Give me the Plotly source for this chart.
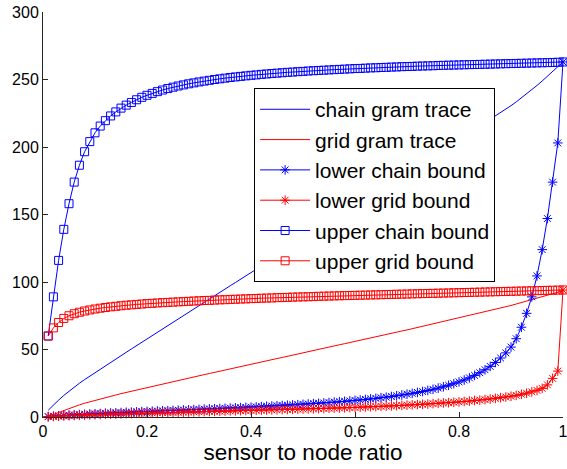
import plotly.graph_objects as go

# sensor-to-node ratio: 1/100 ... 100/100
ratio = [k / 100 for k in range(1, 101)]

chain_gram_trace = [
    5.0, 9.0, 12.5, 16.0, 19.2, 22.2, 25.0, 27.7, 30.3, 32.9,
    35.4, 37.9, 40.4, 42.9, 45.4, 47.9, 50.4, 52.9, 55.4, 57.9,
    60.4, 62.9, 65.3, 67.8, 70.2, 72.7, 75.1, 77.6, 80.0, 82.5,
    84.9, 87.4, 89.8, 92.3, 94.7, 97.2, 99.6, 102.1, 104.5, 107.0,
    109.4, 111.9, 114.3, 116.8, 119.2, 121.7, 124.1, 126.6, 129.0, 131.5,
    133.9, 136.4, 138.8, 141.3, 143.7, 146.2, 148.6, 151.1, 153.5, 156.0,
    158.4, 160.9, 163.3, 165.8, 168.2, 170.7, 173.1, 175.6, 178.0, 180.5,
    182.9, 185.4, 187.8, 190.3, 192.7, 195.2, 197.6, 200.1, 202.5, 205.0,
    207.5, 210.0, 212.5, 215.0, 217.5, 220.0, 222.6, 225.2, 227.9, 230.6,
    233.4, 236.3, 239.3, 242.4, 245.6, 248.9, 252.3, 255.8, 259.4, 263.0,
]

grid_gram_trace = [
    0.5, 2.0, 3.5, 5.0, 6.4, 7.7, 9.0, 10.2, 11.3, 12.4,
    13.4, 14.4, 15.4, 16.3, 17.3, 18.2, 19.2, 20.1, 21.1, 22.0,
    22.9, 23.7, 24.6, 25.4, 26.3, 27.1, 28.0, 28.8, 29.7, 30.5,
    31.4, 32.2, 33.1, 33.9, 34.8, 35.6, 36.5, 37.3, 38.2, 39.0,
    39.9, 40.7, 41.6, 42.4, 43.3, 44.1, 45.0, 45.8, 46.7, 47.5,
    48.4, 49.2, 50.1, 50.9, 51.8, 52.6, 53.5, 54.3, 55.2, 56.0,
    56.9, 57.7, 58.6, 59.4, 60.3, 61.1, 62.0, 62.8, 63.7, 64.5,
    65.4, 66.2, 67.1, 67.9, 68.8, 69.7, 70.5, 71.4, 72.2, 73.1,
    74.0, 74.9, 75.8, 76.7, 77.6, 78.6, 79.6, 80.6, 81.6, 82.6,
    83.7, 84.8, 85.9, 87.0, 88.1, 89.2, 90.3, 91.4, 92.4, 93.5,
]

lower_chain_bound = [
    0.3, 0.6, 0.9, 1.2, 1.4, 1.6, 1.8, 2.0, 2.2, 2.4,
    2.6, 2.8, 3.0, 3.1, 3.3, 3.5, 3.6, 3.8, 4.0, 4.1,
    4.3, 4.4, 4.6, 4.7, 4.9, 5.0, 5.2, 5.3, 5.5, 5.6,
    5.8, 6.0, 6.1, 6.3, 6.4, 6.6, 6.8, 6.9, 7.1, 7.3,
    7.5, 7.7, 7.9, 8.1, 8.3, 8.5, 8.7, 8.9, 9.1, 9.4,
    9.6, 9.9, 10.1, 10.4, 10.7, 11.0, 11.3, 11.6, 11.9, 12.3,
    12.6, 13.0, 13.4, 13.8, 14.3, 14.7, 15.2, 15.7, 16.3, 16.9,
    17.5, 18.2, 18.9, 19.7, 20.5, 21.4, 22.4, 23.5, 24.7, 26.0,
    27.4, 29.0, 30.8, 32.8, 35.0, 37.5, 40.4, 43.7, 47.5, 51.8,
    58.0, 66.5, 76.8, 89.0, 104.5, 124.0, 147.0, 174.0, 203.0, 263.0,
]

lower_grid_bound = [
    0.2, 0.4, 0.6, 0.8, 1.0, 1.1, 1.3, 1.4, 1.6, 1.7,
    1.8, 2.0, 2.1, 2.2, 2.3, 2.5, 2.6, 2.7, 2.8, 2.9,
    3.0, 3.1, 3.2, 3.3, 3.4, 3.5, 3.6, 3.7, 3.8, 3.9,
    4.0, 4.1, 4.2, 4.3, 4.4, 4.5, 4.6, 4.7, 4.8, 4.9,
    5.0, 5.1, 5.2, 5.3, 5.4, 5.5, 5.6, 5.7, 5.8, 5.9,
    6.0, 6.1, 6.2, 6.3, 6.5, 6.6, 6.7, 6.8, 7.0, 7.1,
    7.3, 7.4, 7.6, 7.7, 7.9, 8.1, 8.2, 8.4, 8.6, 8.8,
    9.0, 9.2, 9.4, 9.6, 9.9, 10.1, 10.4, 10.6, 10.9, 11.2,
    11.5, 11.8, 12.2, 12.5, 12.9, 13.3, 13.8, 14.3, 14.8, 15.4,
    16.0, 16.8, 17.6, 18.6, 19.7, 21.2, 23.8, 28.6, 34.0, 94.0,
]

upper_chain_bound = [
    60.0, 89.0, 116.0, 139.0, 158.0, 174.0, 186.5, 196.5, 204.0, 210.5,
    215.5, 219.5, 223.0, 226.0, 228.8, 231.0, 233.0, 235.0, 236.8, 238.3,
    239.7, 241.0, 242.2, 243.3, 244.3, 245.2, 246.0, 246.8, 247.5, 248.2,
    248.8, 249.4, 250.0, 250.5, 251.0, 251.5, 251.9, 252.3, 252.7, 253.1,
    253.4, 253.8, 254.1, 254.4, 254.7, 255.0, 255.3, 255.5, 255.8, 256.0,
    256.3, 256.5, 256.7, 256.9, 257.1, 257.3, 257.5, 257.7, 257.9, 258.1,
    258.2, 258.4, 258.6, 258.7, 258.9, 259.0, 259.2, 259.3, 259.5, 259.6,
    259.7, 259.9, 260.0, 260.1, 260.2, 260.4, 260.5, 260.6, 260.7, 260.8,
    260.9, 261.0, 261.1, 261.2, 261.3, 261.4, 261.5, 261.6, 261.7, 261.8,
    261.9, 262.0, 262.1, 262.2, 262.3, 262.4, 262.5, 262.6, 262.8, 263.0,
]

upper_grid_bound = [
    60.0, 66.0, 70.0, 73.0, 75.0, 76.5, 77.6, 78.5, 79.3, 80.0,
    80.6, 81.1, 81.6, 82.0, 82.4, 82.8, 83.1, 83.4, 83.7, 84.0,
    84.2, 84.5, 84.7, 84.9, 85.1, 85.3, 85.5, 85.7, 85.9, 86.1,
    86.3, 86.4, 86.6, 86.8, 86.9, 87.1, 87.2, 87.4, 87.5, 87.7,
    87.8, 88.0, 88.1, 88.2, 88.4, 88.5, 88.6, 88.8, 88.9, 89.0,
    89.1, 89.2, 89.4, 89.5, 89.6, 89.7, 89.8, 89.9, 90.0, 90.1,
    90.2, 90.3, 90.4, 90.5, 90.6, 90.7, 90.8, 90.9, 91.0, 91.1,
    91.2, 91.3, 91.4, 91.5, 91.6, 91.7, 91.8, 91.9, 92.0, 92.1,
    92.2, 92.3, 92.4, 92.5, 92.6, 92.7, 92.8, 92.9, 93.0, 93.1,
    93.2, 93.3, 93.4, 93.5, 93.6, 93.7, 93.8, 93.9, 94.0, 94.1,
]

x_ticks = [0, 0.2, 0.4, 0.6, 0.8, 1]
x_tick_text = ["0", "0.2", "0.4", "0.6", "0.8", "1"]
y_ticks = [0, 50, 100, 150, 200, 250, 300]

BLUE = "rgb(0,0,255)"
RED = "rgb(255,0,0)"
AXIS = "#262626"
FONT = "Liberation Sans, Arial, Helvetica, sans-serif"

fig = go.Figure()

series = [
    ("chain gram trace", chain_gram_trace, BLUE, None),
    ("grid gram trace", grid_gram_trace, RED, None),
    ("lower chain bound", lower_chain_bound, BLUE, "asterisk-open"),
    ("lower grid bound", lower_grid_bound, RED, "asterisk-open"),
    ("upper chain bound", upper_chain_bound, BLUE, "square-open"),
    ("upper grid bound", upper_grid_bound, RED, "square-open"),
]

for name, values, color, symbol in series:
    kwargs = dict(
        x=ratio, y=values, name=name,
        line=dict(color=color, width=1),
        cliponaxis=False,
    )
    if symbol is None:
        kwargs["mode"] = "lines"
    else:
        kwargs["mode"] = "lines+markers"
        kwargs["marker"] = dict(symbol=symbol, size=8, color=color,
                                line=dict(color=color, width=1))
    fig.add_trace(go.Scatter(**kwargs))

axis_common = dict(
    showline=True, linecolor=AXIS, linewidth=1,
    ticks="inside", ticklen=5, tickcolor=AXIS, tickwidth=1,
    showgrid=False, zeroline=False,
    tickfont=dict(size=16, color="black", family=FONT),
    ticklabeloverflow="allow",
    automargin=False,
    mirror=False,
)

fig.update_layout(
    width=567, height=469,
    margin=dict(l=43, r=4, t=12, b=52),
    paper_bgcolor="white", plot_bgcolor="white",
    font=dict(family=FONT, color="black"),
    xaxis=dict(range=[0, 1], tickvals=x_ticks, ticktext=x_tick_text,
               title=dict(text="sensor to node ratio",
                          font=dict(size=22.5, family=FONT), standoff=5),
               **axis_common),
    yaxis=dict(range=[0, 300], tickvals=y_ticks, **axis_common),
    legend=dict(
        x=0.406, y=0.812, xanchor="left", yanchor="top",
        bgcolor="white", bordercolor="black", borderwidth=1,
        font=dict(size=21, family=FONT, color="black"),
        itemwidth=50, tracegroupgap=0,
    ),
    showlegend=True,
)

fig.write_html("out.html")
